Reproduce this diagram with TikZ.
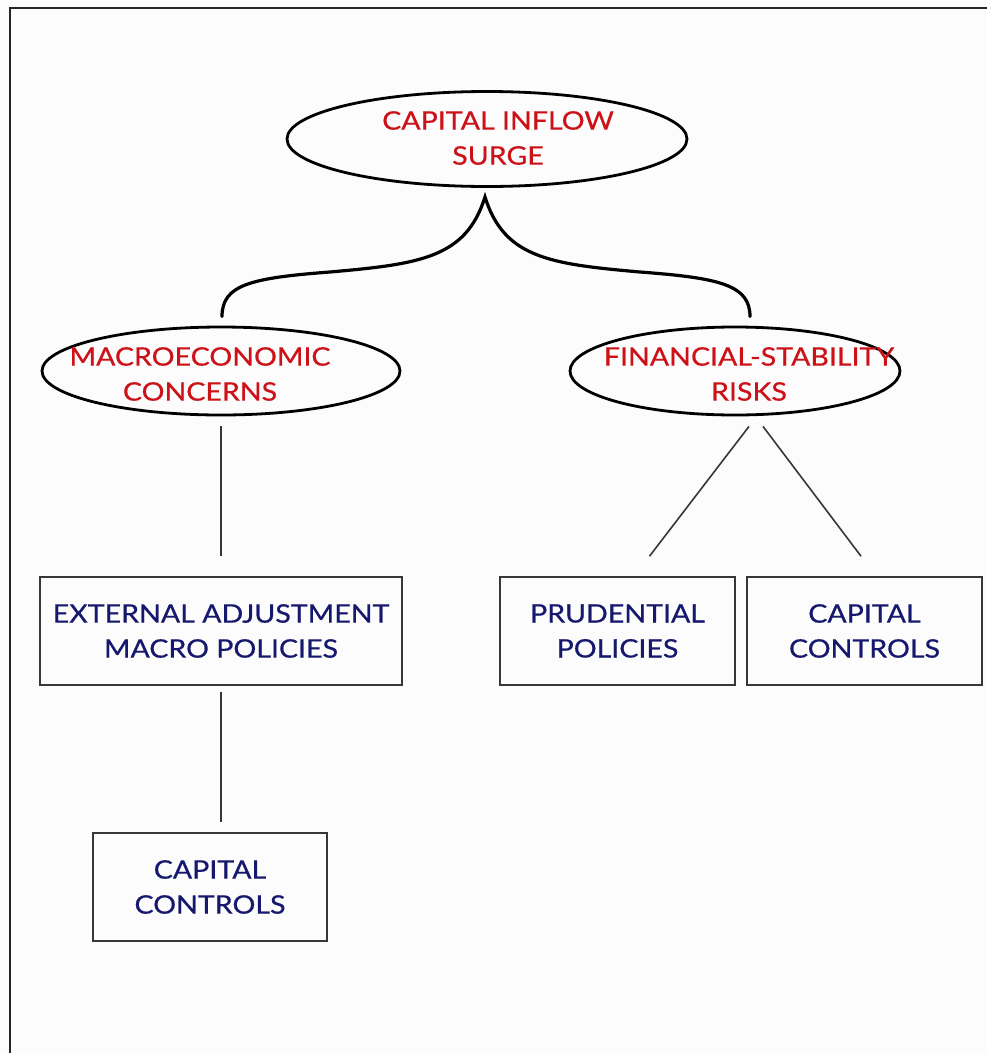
\documentclass[tikz,border=0pt]{standalone}
\usepackage{fontspec}
\setmainfont{Lato}[FakeStretch=1.12,FakeBold=0.6]
\usetikzlibrary{shapes.geometric,calc}
\definecolor{bg}{RGB}{252,252,252}
\definecolor{redtxt}{RGB}{204,18,24}
\definecolor{bluetxt}{RGB}{22,24,110}
\definecolor{linegray}{RGB}{55,55,55}
\tikzset{
  oval/.style={ellipse, draw=black, line width=2.8pt, inner sep=0pt},
  redlabel/.style={text=redtxt, font=\fontsize{25.5}{35}\selectfont, align=center, inner sep=0pt},
  policybox/.style={draw=linegray, line width=1.6pt, inner sep=0pt, text=bluetxt,
    font=\fontsize{25.5}{35}\selectfont, align=center, minimum height=108pt},
  thinline/.style={draw=linegray, line width=1.6pt},
  braceline/.style={draw=black, line width=3.2pt, line cap=round},
  frameline/.style={draw=black!85, line width=1.5pt}
}
\begin{document}
\begin{tikzpicture}[x=1pt,y=-1pt]
\fill[bg] (0,0) rectangle (987,1053);
\useasboundingbox (0,0) rectangle (987,1053);
\coordinate (fbl) at (10,1053);
\coordinate (ftl) at (10,8);
\coordinate (ftr) at (987,8);
\draw[frameline] (fbl) -- (ftl) -- (ftr);

% ellipses
\node[oval, minimum width=400pt, minimum height=95pt] (top) at (487,139) {};
\node[redlabel] (toptxt) at (498,138) {CAPITAL INFLOW\\SURGE};
\node[oval, minimum width=358pt, minimum height=88pt] (mac) at (221,371) {};
\node[redlabel] (mactxt) at (200,374) {MACROECONOMIC\\CONCERNS};
\node[oval, minimum width=330pt, minimum height=88pt] (fin) at (735,371) {};
\node[redlabel] (fintxt) at (749,374) {FINANCIAL-STABILITY\\RISKS};

% boxes
\node[policybox, minimum width=362pt] (ext) at (221,631) {EXTERNAL ADJUSTMENT\\MACRO POLICIES};
\node[policybox, minimum width=234pt] (cc1) at (210,887) {CAPITAL\\CONTROLS};
\node[policybox, minimum width=235pt] (pru) at (617.5,631) {PRUDENTIAL\\POLICIES};
\node[policybox, minimum width=235pt] (cc2) at (864.5,631) {CAPITAL\\CONTROLS};

% brace connector
\coordinate (peak) at ($(top.south)+(-2,9)$);
\coordinate (bl) at ($(mac.north)+(1,-9)$);
\coordinate (br) at ($(fin.north)+(15,-9)$);
\draw[braceline] (bl) .. controls (222,285) and (250,278) .. (330,272)
  .. controls (420,264) and (466,258) .. (peak)
  .. controls (504,258) and (550,264) .. (640,272)
  .. controls (720,278) and (750,285) .. (br);

% straight connectors
\draw[thinline] ($(mac.south)+(0,10)$) -- ($(ext.north)+(0,-20)$);
\draw[thinline] ($(ext.south)+(0,6)$) -- ($(cc1.north)+(11,-10)$);
\draw[thinline] ($(fin.south)+(14,10)$) -- ($(pru.north)+(32,-20)$);
\draw[thinline] ($(fin.south)+(28,10)$) -- ($(cc2.north)+(-3.5,-20)$);
\end{tikzpicture}
\end{document}
